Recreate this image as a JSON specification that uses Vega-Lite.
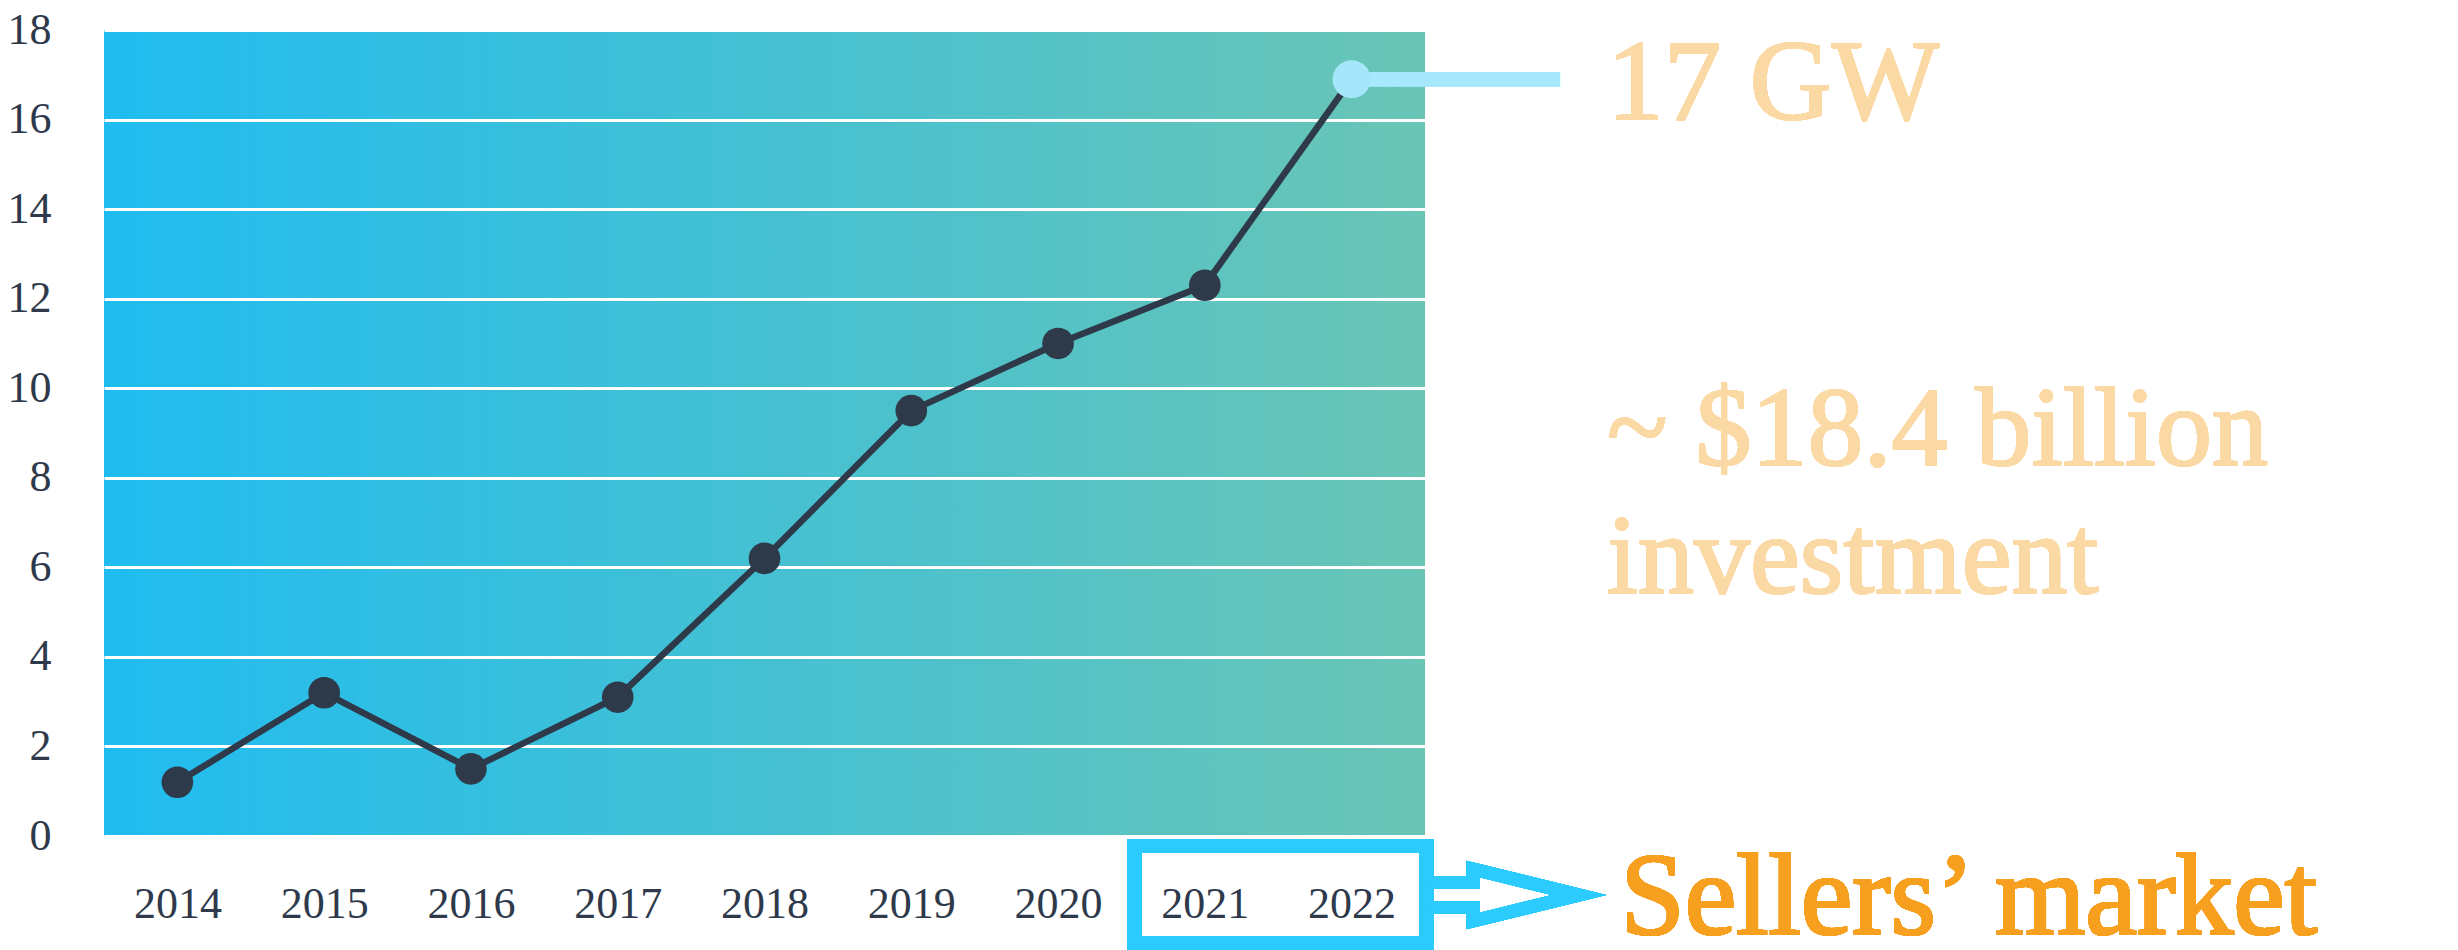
{
  "$schema": "https://vega.github.io/schema/vega-lite/v6.json",
  "width": 1321,
  "height": 806,
  "autosize": "none",
  "padding": {"left": 104, "top": 30, "right": 1033, "bottom": 114},
  "background": "white",
  "config": {
    "view": {
      "stroke": null,
      "fill": {"gradient": "linear", "x1": 0, "y1": 0, "x2": 1, "y2": 0,
        "stops": [{"offset": 0, "color": "#20BCF0"}, {"offset": 1, "color": "#6AC5B5"}]}
    },
    "axis": {"labelFont": "Liberation Serif", "labelFontSize": 44, "labelColor": "#2E3A4B", "domain": false, "ticks": false, "tickSize": 0, "title": null}
  },
  "data": {"values": [
    {"year": 2014, "gw": 1.2},
    {"year": 2015, "gw": 3.2},
    {"year": 2016, "gw": 1.5},
    {"year": 2017, "gw": 3.1},
    {"year": 2018, "gw": 6.2},
    {"year": 2019, "gw": 9.5},
    {"year": 2020, "gw": 11.0},
    {"year": 2021, "gw": 12.3},
    {"year": 2022, "gw": 16.9}
  ]},
  "encoding": {
    "x": {"field": "year", "type": "quantitative",
      "scale": {"domain": [2013.5, 2022.5], "nice": false, "zero": false},
      "axis": {"values": [2014, 2015, 2016, 2017, 2018, 2019, 2020, 2021, 2022], "format": "d", "grid": false, "labelPadding": 46, "labelFlush": false}},
    "y": {"field": "gw", "type": "quantitative",
      "scale": {"domain": [0, 18], "nice": false},
      "axis": {"values": [0, 2, 4, 6, 8, 10, 12, 14, 16, 18], "grid": true, "gridColor": "white", "gridWidth": 3, "gridOpacity": 1, "labelPadding": 53, "labelFlush": false}}
  },
  "layer": [
    {"mark": {"type": "line", "color": "#2E3A4A", "strokeWidth": 6.5}},
    {"transform": [{"filter": "datum.year < 2022"}],
     "mark": {"type": "point", "filled": true, "size": 1000, "color": "#2E3A4A", "opacity": 1}},
    {"mark": {"type": "rule", "color": "#A8E8FC", "strokeWidth": 14, "strokeCap": "butt"},
     "encoding": {"x": {"datum": 2022}, "x2": {"datum": 2023.42}, "y": {"datum": 16.9}}},
    {"transform": [{"filter": "datum.year == 2022"}],
     "mark": {"type": "point", "filled": true, "size": 1450, "color": "#A6E6FB", "opacity": 1}},
    {"mark": {"type": "rect", "filled": false, "stroke": "#2BCBFD", "strokeWidth": 14},
     "encoding": {"x": {"datum": 2020.521}, "x2": {"datum": 2022.51}, "y": {"datum": -0.223}, "y2": {"datum": -2.401}}},
    {"mark": {"type": "point", "filled": false, "stroke": "#2BCBFD", "strokeWidth": 13, "strokeJoin": "miter", "strokeMiterLimit": 10, "opacity": 1, "size": 23104,
      "shape": "M-1,-0.1645L-0.3947,-0.1645L-0.3947,-0.342L1,0L-0.3947,0.342L-0.3947,0.1645L-1,0.1645"},
     "encoding": {"x": {"datum": 2023.031}, "y": {"datum": -1.318}}},
    {"mark": {"type": "text", "text": "17 GW", "font": "Liberation Serif", "fontSize": 114, "color": "#FBD9A5", "stroke": "#FBD9A5", "strokeWidth": 1.5, "align": "left", "baseline": "alphabetic"},
     "encoding": {"x": {"datum": 2023.74}, "y": {"datum": 16.01}}},
    {"mark": {"type": "text", "text": "~ $18.4 billion", "font": "Liberation Serif", "fontSize": 112, "color": "#FBD9A5", "stroke": "#FBD9A5", "strokeWidth": 1.5, "align": "left", "baseline": "alphabetic"},
     "encoding": {"x": {"datum": 2023.74}, "y": {"datum": 8.285}}},
    {"mark": {"type": "text", "text": "investment", "font": "Liberation Serif", "fontSize": 112, "color": "#FBD9A5", "stroke": "#FBD9A5", "strokeWidth": 1.5, "align": "left", "baseline": "alphabetic"},
     "encoding": {"x": {"datum": 2023.74}, "y": {"datum": 5.427}}},
    {"mark": {"type": "text", "text": "Sellers’ market", "font": "Liberation Serif", "fontSize": 116, "color": "#F7A020", "stroke": "#F7A020", "strokeWidth": 2, "align": "left", "baseline": "alphabetic"},
     "encoding": {"x": {"datum": 2023.83}, "y": {"datum": -2.188}}}
  ]
}
